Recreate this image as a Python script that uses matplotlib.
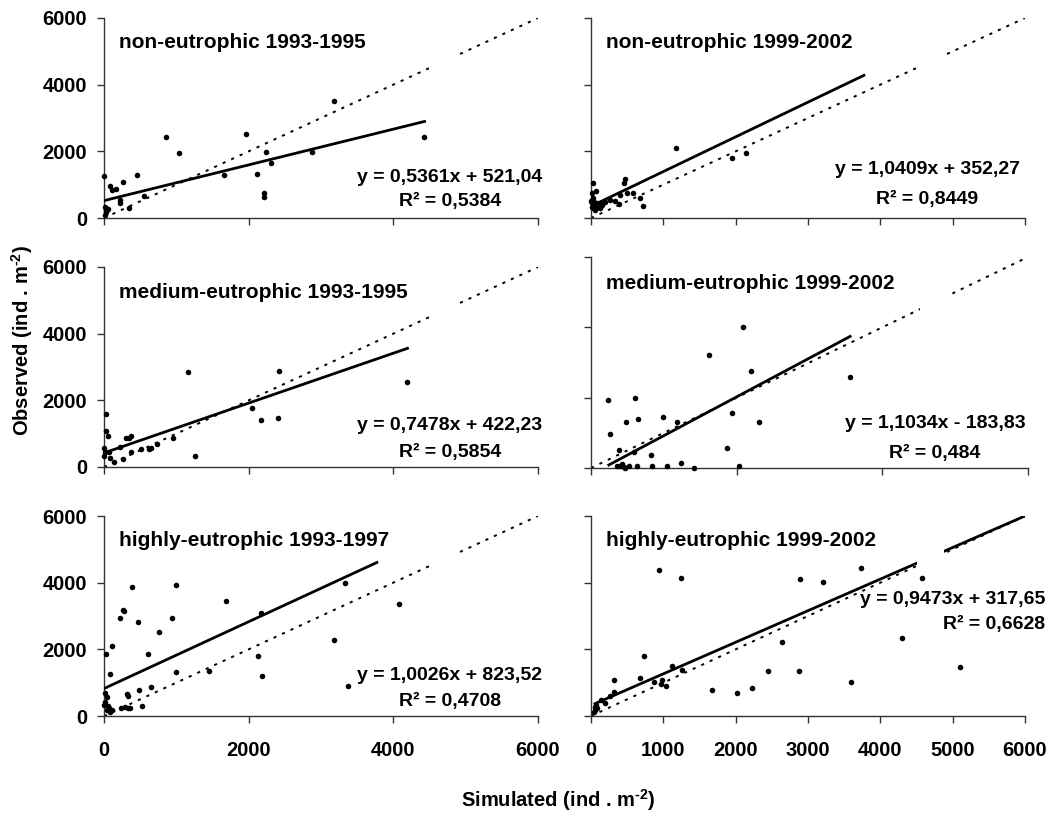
import matplotlib
matplotlib.use("Agg")
import matplotlib.pyplot as plt
from matplotlib.patches import Rectangle
import numpy as np

plt.rcParams["font.family"] = ["Liberation Sans", "DejaVu Sans"]
plt.rcParams["font.weight"] = "bold"
plt.rcParams["mathtext.fontset"] = "custom"
plt.rcParams["mathtext.rm"] = "Liberation Sans:bold"
plt.rcParams["mathtext.bf"] = "Liberation Sans:bold"
plt.rcParams["mathtext.it"] = "Liberation Sans:bold"

# ---- data: simulated vs observed densities (ind . m-2) ----
sim_non_9395 = [4, 14, 28, 14, 60, 30, 83, 110, 161, 258, 452, 221, 221, 350, 553,
                860, 1030, 1665, 1960, 2111, 2217, 2208, 2245, 2305, 2880, 3174, 4425]
obs_non_9395 = [1260, 340, 190, 90, 280, 250, 965, 836, 866, 1075, 1284, 542, 463, 290, 657,
                2433, 1940, 1281, 2512, 1310, 739, 620, 1970, 1655, 1970, 3497, 2433]

sim_non_9902 = [23, 69, 10, 23, 10, 32, 55, 101, 124, 197, 266, 335, 394, 404, 450, 468,
                495, 587, 679, 716, 5, 15, 40, 80, 150, 60, 120, 1174, 1950, 2138]
obs_non_9902 = [1055, 806, 738, 588, 438, 290, 388, 338, 438, 478, 527, 497, 408, 697, 1045, 1174,
                756, 756, 597, 348, 500, 330, 480, 460, 400, 230, 300, 2100, 1801, 1940]

sim_med_9395 = [28, 28, 51, 5, 14, 5, 83, 138, 69, 221, 258, 299, 373, 350, 373, 511, 626,
                644, 736, 957, 1164, 1260, 2052, 2167, 2401, 2420, 4195]
obs_med_9395 = [1604, 1079, 941, 564, 465, 317, 267, 149, 436, 594, 238, 861, 941, 881, 446, 535, 535,
                584, 683, 861, 2841, 317, 1772, 1406, 1485, 2891, 2564]

sim_med_9902 = [228, 265, 384, 479, 607, 644, 584, 822, 995, 1183, 1626, 1931, 1872, 2082, 2201,
                2310, 3562, 356, 425, 470, 516, 630, 836, 1050, 1242, 1415, 2032, 402, 447]
obs_med_9902 = [1924, 971, 500, 1320, 1999, 1405, 443, 377, 1443, 1320, 3225, 1565, 566, 4017, 2754,
                1320, 2593, 66, 123, 0, 66, 66, 66, 66, 141, 0, 66, 66, 40]

sim_high_9397 = [28, 106, 87, 221, 258, 281, 391, 474, 607, 759, 934, 994, 994, 1454, 1688, 2130,
                 2171, 2185, 3174, 3326, 3367, 4076, 14, 37, 14, 60, 37, 83, 106, 5, 74, 235, 290,
                 336, 359, 313, 336, 488, 529, 644]
obs_high_9397 = [1861, 2109, 1264, 2935, 3184, 3144, 3861, 2816, 1861, 2527, 2935, 3940, 1313, 1363,
                 3443, 1801, 3104, 1194, 2269, 3990, 896, 3363, 677, 577, 428, 299, 179, 129, 179,
                 328, 229, 229, 259, 229, 229, 657, 607, 766, 308, 856]

sim_high_9902 = [945, 1239, 2894, 3202, 3738, 4582, 4294, 5101, 2642, 2449, 2871, 3596, 2220, 2018,
                 1674, 734, 679, 317, 317, 1119, 1261, 872, 963, 986, 1037, 197, 142, 266, 60, 60,
                 83, 46, 73]
obs_high_9902 = [4388, 4139, 4099, 4020, 4438, 4139, 2348, 1473, 2219, 1353, 1353, 1015, 846, 687,
                 766, 1811, 1144, 1095, 726, 1512, 1393, 1025, 975, 1075, 896, 398, 478, 597, 279,
                 179, 229, 129, 328]

titles = ["non-eutrophic 1993-1995", "non-eutrophic 1999-2002",
          "medium-eutrophic 1993-1995", "medium-eutrophic 1999-2002",
          "highly-eutrophic 1993-1997", "highly-eutrophic 1999-2002"]
slopes = [0.5361, 1.0409, 0.7478, 1.1034, 1.0026, 0.9473]
intercepts = [521.04, 352.27, 422.23, -183.83, 823.52, 317.65]
r2_values = ["0,5384", "0,8449", "0,5854", "0,484", "0,4708", "0,6628"]
trend_x_start = [0, 5, 5, 228, 0, 37]
trend_x_end = [4450, 3790, 4214, 3575, 3790, 6000]
equations = ["y = 0,5361x + 521,04", "y = 1,0409x + 352,27", "y = 0,7478x + 422,23",
             "y = 1,1034x - 183,83", "y = 1,0026x + 823,52", "y = 0,9473x + 317,65"]

sims = [sim_non_9395, sim_non_9902, sim_med_9395, sim_med_9902, sim_high_9397, sim_high_9902]
obss = [obs_non_9395, obs_non_9902, obs_med_9395, obs_med_9902, obs_high_9397, obs_high_9902]

W, H = 1052, 816
fig = plt.figure(figsize=(W / 100, H / 100), dpi=100)

def frac_box(x0, x1, ytop, ybot):
    return [x0 / W, 1 - ybot / H, (x1 - x0) / W, (ybot - ytop) / H]

boxes = [frac_box(104, 538, 18, 218), frac_box(591, 1025, 18, 218),
         frac_box(104, 538, 267, 467), frac_box(591, 1028, 257, 468),
         frac_box(104, 538, 516, 716), frac_box(591, 1025, 516, 716)]

xtick_sets = [[0, 2000, 4000, 6000], list(range(0, 6001, 1000)),
              [0, 2000, 4000, 6000], [0, 2000, 4000, 6000],
              [0, 2000, 4000, 6000], list(range(0, 6001, 1000))]

# equation label placement (axes fraction) and alignment
eq_pos = [(0.797, 0.205, 0.085), (0.775, 0.24, 0.095),
          (0.797, 0.205, 0.075), (0.787, 0.21, 0.07),
          (0.797, 0.205, 0.075), (1.046, 0.585, 0.46)]
eq_align = ["center", "center", "center", "center", "center", "right"]

title_fs = 15
tick_fs = 14.5
eq_fs = 14
for i in range(6):
    ax = fig.add_axes(boxes[i])
    ax.set_xlim(0, 6000)
    ax.set_ylim(0, 6000)
    for s in ["top", "right"]:
        ax.spines[s].set_visible(False)
    for s in ["left", "bottom"]:
        ax.spines[s].set_color("#333333")
        ax.spines[s].set_linewidth(1.0)

    # 1:1 reference line
    ax.plot([0, 6000], [0, 6000], color="black", lw=1.4,
            linestyle=(0, (1.6, 3.2)), zorder=2)
    # fitted regression line
    xt = np.array([trend_x_start[i], trend_x_end[i]], dtype=float)
    ax.plot(xt, slopes[i] * xt + intercepts[i], color="black", lw=2.0,
            solid_capstyle="butt", zorder=3)
    ax.scatter(sims[i], obss[i], s=16, color="black", linewidths=0,
               zorder=4, clip_on=False)

    # blank text frame that masks the lines behind it
    ax.add_patch(Rectangle((0.752, 0.745), 0.062, 0.10, transform=ax.transAxes,
                           facecolor="white", edgecolor="none", zorder=5))

    ax.set_xticks(xtick_sets[i])
    ax.set_yticks([0, 2000, 4000, 6000])
    ax.tick_params(direction="out", length=5, width=1.0, color="#333333",
                   labelsize=tick_fs, pad=7)
    ax.tick_params(axis="x", pad=13)
    if i % 2 == 1:
        ax.set_yticklabels([])
    if i < 4:
        ax.set_xticklabels([])
    for lab in ax.get_xticklabels() + ax.get_yticklabels():
        lab.set_fontweight("bold")

    ax.text(0.035, 0.875, titles[i], transform=ax.transAxes, fontsize=title_fs,
            fontweight="bold", ha="left", va="center", zorder=6)

    ex, ey1, ey2 = eq_pos[i]
    ax.text(ex, ey1, equations[i], transform=ax.transAxes, fontsize=eq_fs,
            fontweight="bold", ha=eq_align[i], va="center", zorder=6)
    ax.text(ex, ey2, "R\u00b2 = " + r2_values[i], transform=ax.transAxes, fontsize=eq_fs,
            fontweight="bold", ha=eq_align[i], va="center", zorder=6)

fig.text(22 / W, 1 - 340 / H, r"Observed (ind . m$^{\text{-2}}$)", rotation=90,
         fontsize=14.5, fontweight="bold", ha="center", va="center")
fig.text(558 / W, 1 - 800 / H, r"Simulated (ind . m$^{\text{-2}}$)",
         fontsize=14.5, fontweight="bold", ha="center", va="center")

fig.savefig("out.png", dpi=100, facecolor="white")
